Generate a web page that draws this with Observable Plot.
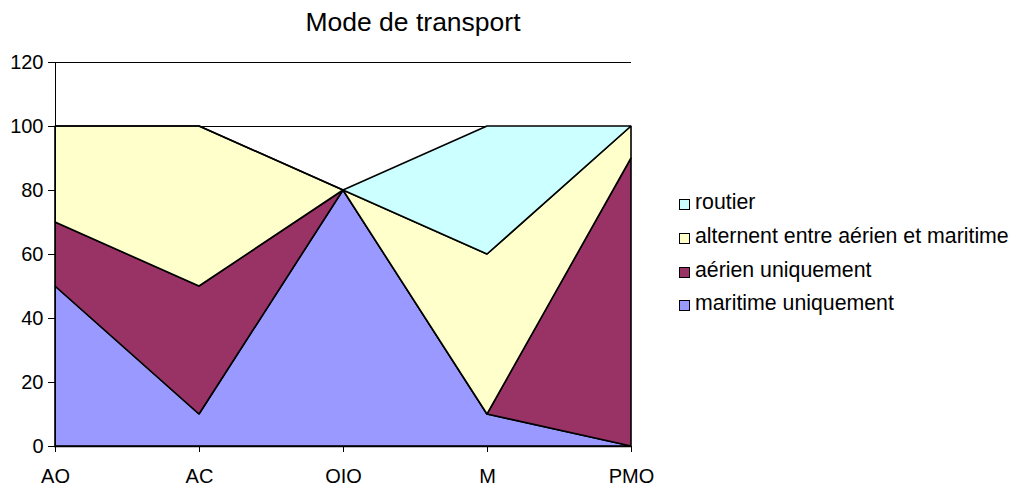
<!DOCTYPE html>
<html><head><meta charset="utf-8">
<script src="https://cdn.jsdelivr.net/npm/d3@7"></script>
<script src="https://cdn.jsdelivr.net/npm/@observablehq/plot@0.6"></script>
<style>
body{margin:0;background:#fff;}
#wrap{position:relative;width:1011px;height:489px;font-family:"Liberation Sans",Arial,sans-serif;color:#000;}
#title{position:absolute;left:0;width:826px;top:9px;text-align:center;font-size:26.5px;line-height:26px;}
.leg{position:absolute;left:678px;font-size:21.3px;line-height:21px;white-space:nowrap;}
.sw{position:absolute;left:1px;width:9px;height:9px;border:1px solid #000;}
.lt{position:absolute;left:17px;top:0;}
svg{position:absolute;left:0;top:0;}
</style></head>
<body><div id="wrap"><div id="title">Mode de transport</div></div>
<script>
const categories = ["AO", "AC", "OIO", "M", "PMO"];
const seriesNames = ["maritime uniquement", "aérien uniquement", "alternent entre aérien et maritime", "routier"];
const maritime = [50, 10, 80, 10, 0];
const aerien = [20, 40, 0, 0, 90];
const alternent = [30, 50, 0, 50, 10];
const routier = [0, 0, 0, 40, 0];
const colors = ["#9999FF", "#993366", "#FFFFCC", "#CCFFFF"];
const yTicks = [0, 20, 40, 60, 80, 100, 120];

const seriesValues = [maritime, aerien, alternent, routier];
const data = [];
seriesNames.forEach((s, i) => categories.forEach((c, j) => data.push({cat: c, series: s, value: seriesValues[i][j]})));

const chart = Plot.plot({
  width: 1011, height: 489,
  marginLeft: 54, marginRight: 380, marginTop: 62, marginBottom: 43,
  style: {fontFamily: '"Liberation Sans", Arial, sans-serif', fontSize: "20px", color: "#000", background: "transparent"},
  x: {type: "point", domain: categories, padding: 0, label: null},
  y: {domain: [0, 120], ticks: yTicks, label: null},
  color: {domain: seriesNames, range: colors},
  marks: [
    Plot.gridY(yTicks, {stroke: "#000", strokeOpacity: 1, strokeWidth: 1}),
    Plot.areaY(data, {x: "cat", y: "value", fill: "series", z: "series", order: seriesNames, stroke: "#000", strokeWidth: 1.6, strokeLinejoin: "miter"}),
    Plot.ruleX([categories[0]], {y1: 0, y2: 120, stroke: "#000", strokeWidth: 1}),
    Plot.ruleY([0], {stroke: "#000", strokeWidth: 1.5}),
    Plot.axisY(yTicks, {tickSize: 6, tickPadding: 5, fontSize: 20, label: null}),
    Plot.axisX(categories, {tickSize: 6, tickPadding: 16, fontSize: 20, label: null})
  ]
});
const wrap = document.getElementById("wrap");
wrap.appendChild(chart);

const legendOrder = [3, 2, 1, 0];
const squareTop = [199, 233, 267, 300];
legendOrder.forEach((si, k) => {
  const row = document.createElement("div");
  row.className = "leg";
  const baseline = squareTop[k] + 11;
  const top = Math.round(baseline - 18);
  row.style.top = top + "px";
  const sw = document.createElement("div");
  sw.className = "sw";
  sw.style.background = colors[si];
  sw.style.top = (squareTop[k] - top) + "px";
  const t = document.createElement("div");
  t.className = "lt";
  t.textContent = seriesNames[si];
  row.appendChild(sw); row.appendChild(t);
  wrap.appendChild(row);
});
</script></body></html>
